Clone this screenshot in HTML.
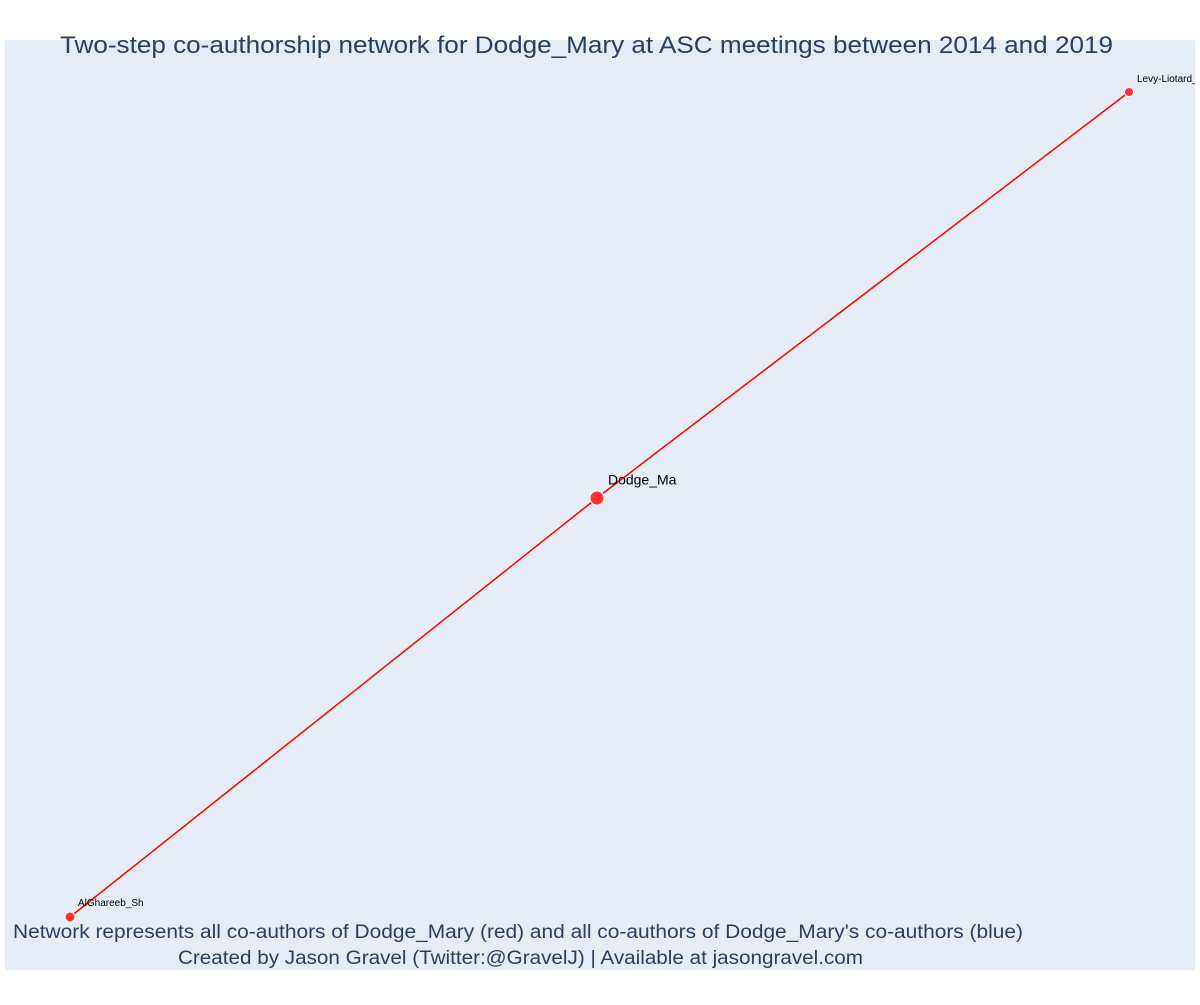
<!DOCTYPE html>
<html><head><meta charset="utf-8"><style>
body{margin:0;background:#fff;width:1200px;height:1000px;overflow:hidden;font-family:"Liberation Sans",sans-serif}
</style></head><body>
<svg id="chart" width="1200" height="1000" xmlns="http://www.w3.org/2000/svg">
<defs><clipPath id="plotclip"><rect x="5" y="40" width="1190" height="930"/></clipPath></defs>
<rect x="5" y="40" width="1190" height="930" fill="#e5ecf6"/>
<g id="edges" clip-path="url(#plotclip)"></g>
<g id="nodes" clip-path="url(#plotclip)"></g>
<text x="60" y="53" textLength="1053" lengthAdjust="spacingAndGlyphs" font-size="24" fill="#2a3f5f">Two-step co-authorship network for Dodge_Mary at ASC meetings between 2014 and 2019</text>
<text x="13" y="938" textLength="1010" lengthAdjust="spacingAndGlyphs" font-size="19" fill="#2a3f5f">Network represents all co-authors of Dodge_Mary (red) and all co-authors of Dodge_Mary's co-authors (blue)</text>
<text x="178" y="964" textLength="685" lengthAdjust="spacingAndGlyphs" font-size="19" fill="#2a3f5f">Created by Jason Gravel (Twitter:@GravelJ) | Available at jasongravel.com</text>
</svg>
<script>
const nodeNames = ["AlGhareeb_Sh", "Dodge_Ma", "Levy-Liotard_"];
const nodeX = [0, 0.4976, 1];
const nodeY = [0, 0.5079, 1];
const nodeSize = [10, 14, 9];
const labelSize = [10, 14, 10];
const edgeFrom = [0, 1];
const edgeTo = [1, 2];
function xs(v){return 70 + v*(1129-70);}
function ys(v){return 917 - v*(917-92);}
const NS="http://www.w3.org/2000/svg";
const eg=document.getElementById('edges'), ng=document.getElementById('nodes');
for(let i=0;i<edgeFrom.length;i++){
  const l=document.createElementNS(NS,'line');
  
  
  l.setAttribute('x1',xs(nodeX[edgeFrom[i]]));l.setAttribute('y1',ys(nodeY[edgeFrom[i]]));
  l.setAttribute('x2',xs(nodeX[edgeTo[i]]));l.setAttribute('y2',ys(nodeY[edgeTo[i]]));
  l.setAttribute('stroke','#ff0000');l.setAttribute('stroke-width','1.5');
  eg.appendChild(l);
}
for(let i=0;i<nodeNames.length;i++){
  const c=document.createElementNS(NS,'circle');
  
  
  c.setAttribute('cx',xs(nodeX[i]));c.setAttribute('cy',ys(nodeY[i]));
  c.setAttribute('r',nodeSize[i]/2);
  c.setAttribute('fill','#ff3030');c.setAttribute('stroke','#fff');c.setAttribute('stroke-width','1');
  ng.appendChild(c);
  const t=document.createElementNS(NS,'text');
  
  
  t.setAttribute('x',xs(nodeX[i])+8 + (i===1?3:0));
  t.setAttribute('y',ys(nodeY[i])-nodeSize[i]*0.9-(i===1?1:2));
  t.setAttribute('font-size',labelSize[i]);t.setAttribute('fill','#000');
  t.textContent=nodeNames[i];
  ng.appendChild(t);
}
</script>
</body></html>
